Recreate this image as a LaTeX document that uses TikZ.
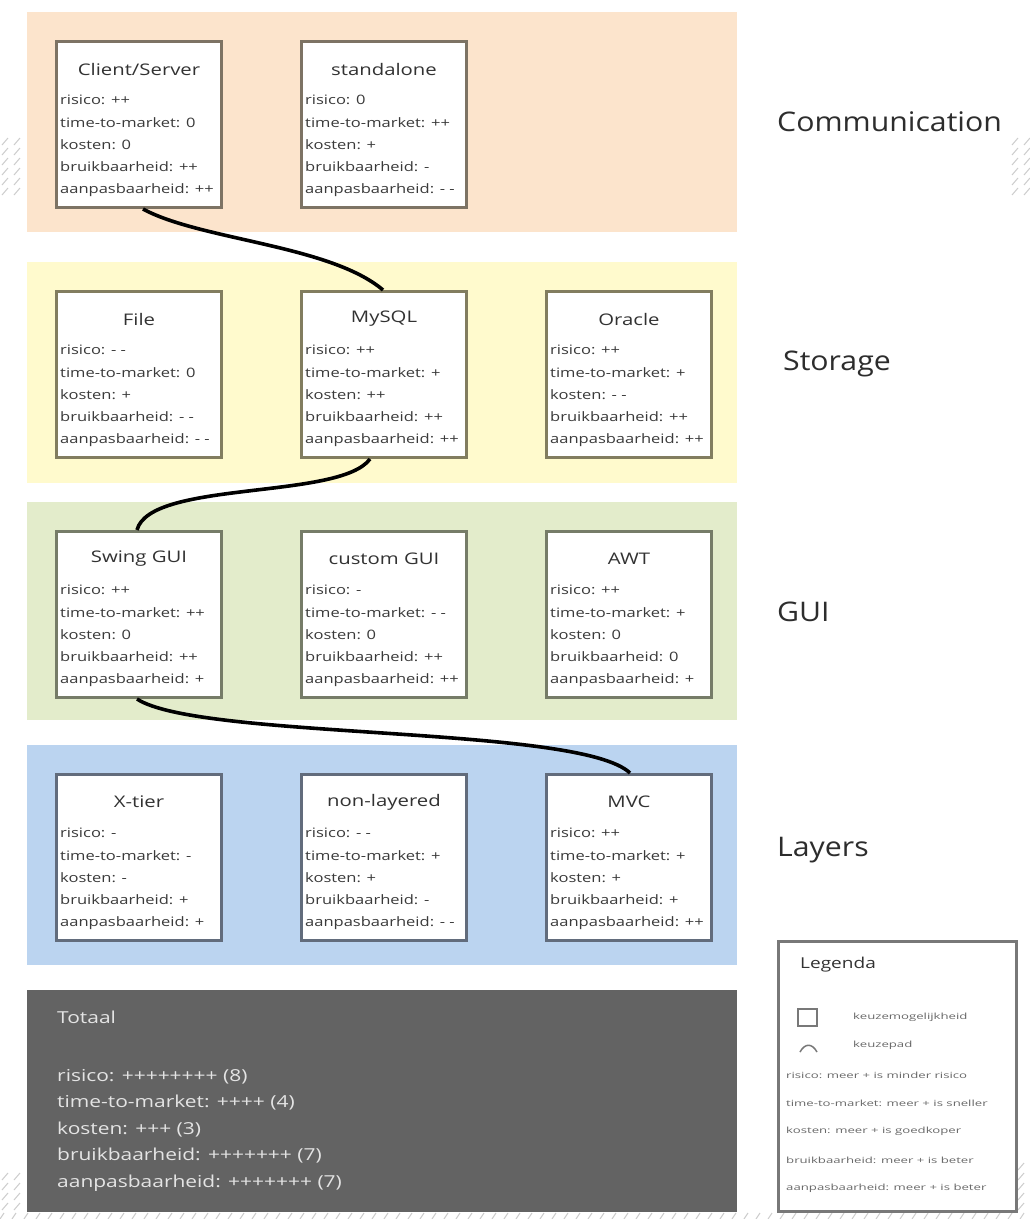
\documentclass[tikz,border=0pt]{standalone}
\usepackage{fontspec}
\setmainfont{Open Sans}
\newfontfamily\boxfont[FakeStretch=1.27]{Open Sans}
\newfontfamily\sidefont[FakeStretch=1.12]{Open Sans}
\newfontfamily\legfont[FakeStretch=1.55]{Open Sans}
\usetikzlibrary{calc}
\definecolor{commfill}{RGB}{252,228,204}
\definecolor{storfill}{RGB}{255,250,205}
\definecolor{guifill}{RGB}{227,236,203}
\definecolor{layfill}{RGB}{187,212,240}
\definecolor{totfill}{RGB}{99,99,99}
\definecolor{commline}{RGB}{125,115,100}
\definecolor{storline}{RGB}{130,125,95}
\definecolor{guiline}{RGB}{118,124,104}
\definecolor{layline}{RGB}{98,108,124}
\definecolor{legline}{RGB}{120,120,120}
\definecolor{txtdark}{RGB}{50,50,50}
\definecolor{txtbody}{RGB}{58,58,58}
\definecolor{sidegray}{RGB}{45,45,45}
\definecolor{tottxt}{RGB}{228,228,228}
\definecolor{legtxt}{RGB}{105,105,105}
\definecolor{hatchgray}{RGB}{205,205,205}
\tikzset{
  band/.style={draw=none, anchor=north west, minimum width=710pt, inner sep=0pt},
  optbox/.style={draw=#1, line width=3pt, fill=white, minimum width=165pt, minimum height=166pt, anchor=north west, inner sep=0pt},
  optttl/.style={font=\boxfont\fontsize{16}{20}\selectfont, text=txtdark, anchor=center, inner sep=0pt},
  optbody/.style={font=\boxfont\fontsize{13}{22.3}\selectfont, text=txtbody, align=left, anchor=north west, inner sep=0pt},
  sidelbl/.style={font=\sidefont\fontsize{27}{30}\selectfont, text=sidegray, anchor=west, inner sep=0pt},
  totlbl/.style={font=\boxfont\fontsize{16.5}{26.5}\selectfont, text=tottxt, align=left, anchor=north west, inner sep=0pt},
  leglbl/.style={font=\legfont\fontsize{8.5}{10}\selectfont, text=legtxt, anchor=west, inner sep=0pt},
  link/.style={line width=3.6pt, black},
  hatch/.style={hatchgray, line width=1pt}
}
\newcommand{\mkopt}[5]{%
  \node[optbox=#3] (#1) at (#2) {};
  \node[optttl] (#1-t) at ($(#1.north)+(0,29)$) {#4};
  \node[optbody] (#1-b) at ($(#1.north west)+(5,55)$) {#5};
}
\begin{document}
\begin{tikzpicture}[x=1pt,y=-1pt]
\useasboundingbox (0,0) rectangle (1030,1219);
\fill[white] (0,0) rectangle (1030,1219);
% background hatch remnants
\foreach \yy in {145,155,...,195}{\draw[hatch] (2,\yy) -- (8,\yy-7); \draw[hatch] (14,\yy) -- (20,\yy-7);}
\foreach \yy in {145,155,...,195}{\draw[hatch] (1012,\yy) -- (1018,\yy-7); \draw[hatch] (1024,\yy) -- (1030,\yy-7);}
\foreach \yy in {1180,1190,...,1210}{\draw[hatch] (2,\yy) -- (8,\yy-7); \draw[hatch] (14,\yy) -- (20,\yy-7);}
\foreach \yy in {1170,1180,...,1210}{\draw[hatch] (1018,\yy) -- (1024,\yy-7);}
\foreach \xx in {0,12,...,1030}{\draw[hatch] (\xx,1219) -- (\xx+4,1213);}
% bands
\node[band, fill=commfill, minimum height=220pt] (bcomm) at (27,12) {};
\node[band, fill=storfill, minimum height=221pt] (bstor) at (27,262) {};
\node[band, fill=guifill, minimum height=218pt] (bgui) at (27,502) {};
\node[band, fill=layfill, minimum height=220pt] (blay) at (27,745) {};
\node[band, fill=totfill, minimum height=222pt] (btot) at (27,990) {};
% side labels
\node[sidelbl] (lcomm) at (777,122) {Communication};
\node[sidelbl] (lstor) at (783,364) {Storage};
\node[sidelbl] (lgui) at (777,612) {GUI};
\node[sidelbl] (llay) at (777,850) {Layers};
% communication
\mkopt{cs}{55,40}{commline}{Client/Server}{risico: ++\\time-to-market: 0\\kosten: 0\\bruikbaarheid: ++\\aanpasbaarheid: ++}
\mkopt{sa}{300,40}{commline}{standalone}{risico: 0\\time-to-market: ++\\kosten: +\\bruikbaarheid: -\\aanpasbaarheid: - -}
% storage
\mkopt{file}{55,290}{storline}{File}{risico: - -\\time-to-market: 0\\kosten: +\\bruikbaarheid: - -\\aanpasbaarheid: - -}
\mkopt{mysql}{300,290}{storline}{MySQL}{risico: ++\\time-to-market: +\\kosten: ++\\bruikbaarheid: ++\\aanpasbaarheid: ++}
\mkopt{oracle}{545,290}{storline}{Oracle}{risico: ++\\time-to-market: +\\kosten: - -\\bruikbaarheid: ++\\aanpasbaarheid: ++}
% gui
\mkopt{swing}{55,530}{guiline}{Swing GUI}{risico: ++\\time-to-market: ++\\kosten: 0\\bruikbaarheid: ++\\aanpasbaarheid: +}
\mkopt{custom}{300,530}{guiline}{custom GUI}{risico: -\\time-to-market: - -\\kosten: 0\\bruikbaarheid: ++\\aanpasbaarheid: ++}
\mkopt{awt}{545,530}{guiline}{AWT}{risico: ++\\time-to-market: +\\kosten: 0\\bruikbaarheid: 0\\aanpasbaarheid: +}
% layers
\mkopt{xtier}{55,773}{layline}{X-tier}{risico: -\\time-to-market: -\\kosten: -\\bruikbaarheid: +\\aanpasbaarheid: +}
\mkopt{nonlay}{300,773}{layline}{non-layered}{risico: - -\\time-to-market: +\\kosten: +\\bruikbaarheid: -\\aanpasbaarheid: - -}
\mkopt{mvc}{545,773}{layline}{MVC}{risico: ++\\time-to-market: +\\kosten: +\\bruikbaarheid: +\\aanpasbaarheid: ++}
% connectors (chosen path)
\draw[link] ($(cs.south west)+(88,0)$) .. controls (200,240) and (330,245) .. ($(mysql.north west)+(83,0)$);
\draw[link] ($(mysql.south west)+(70,0)$) .. controls (340,500) and (150,480) .. ($(swing.north west)+(82,0)$);
\draw[link] ($(swing.south west)+(82,0)$) .. controls (200,740) and (580,725) .. ($(mvc.north west)+(85,0)$);
% totals
\node[totlbl, font=\boxfont\fontsize{16.5}{20}\selectfont] (tottitle) at (57,1011) {Totaal};
\node[totlbl] (totbody) at (57,1069) {risico: ++++++++ (8)\\time-to-market: ++++ (4)\\kosten: +++ (3)\\bruikbaarheid: +++++++ (7)\\aanpasbaarheid: +++++++ (7)};
% legend
\node[draw=legline, line width=3pt, fill=white, anchor=north west, minimum width=238pt, minimum height=270pt, inner sep=0pt] (legend) at (777,940) {};
\node[anchor=west, inner sep=0pt, font=\boxfont\fontsize{15}{17}\selectfont, text=txtdark] (legtitle) at (800,965) {Legenda};
\node[draw=legline, line width=2pt, minimum width=19pt, minimum height=17pt, inner sep=0pt] (legsq) at (807,1017) {};
\draw[legline, line width=1.5pt] (800,1052) .. controls (805,1043) and (812,1043) .. (817,1052);
\node[leglbl] (lk1) at (853,1017) {keuzemogelijkheid};
\node[leglbl] (lk2) at (853,1045) {keuzepad};
\node[leglbl] (lr1) at (786,1075) {risico: meer + is minder risico};
\node[leglbl] (lr2) at (786,1103) {time-to-market: meer + is sneller};
\node[leglbl] (lr3) at (786,1131) {kosten: meer + is goedkoper};
\node[leglbl] (lr4) at (786,1160) {bruikbaarheid: meer + is beter};
\node[leglbl] (lr5) at (786,1188) {aanpasbaarheid: meer + is beter};
\end{tikzpicture}
\end{document}
